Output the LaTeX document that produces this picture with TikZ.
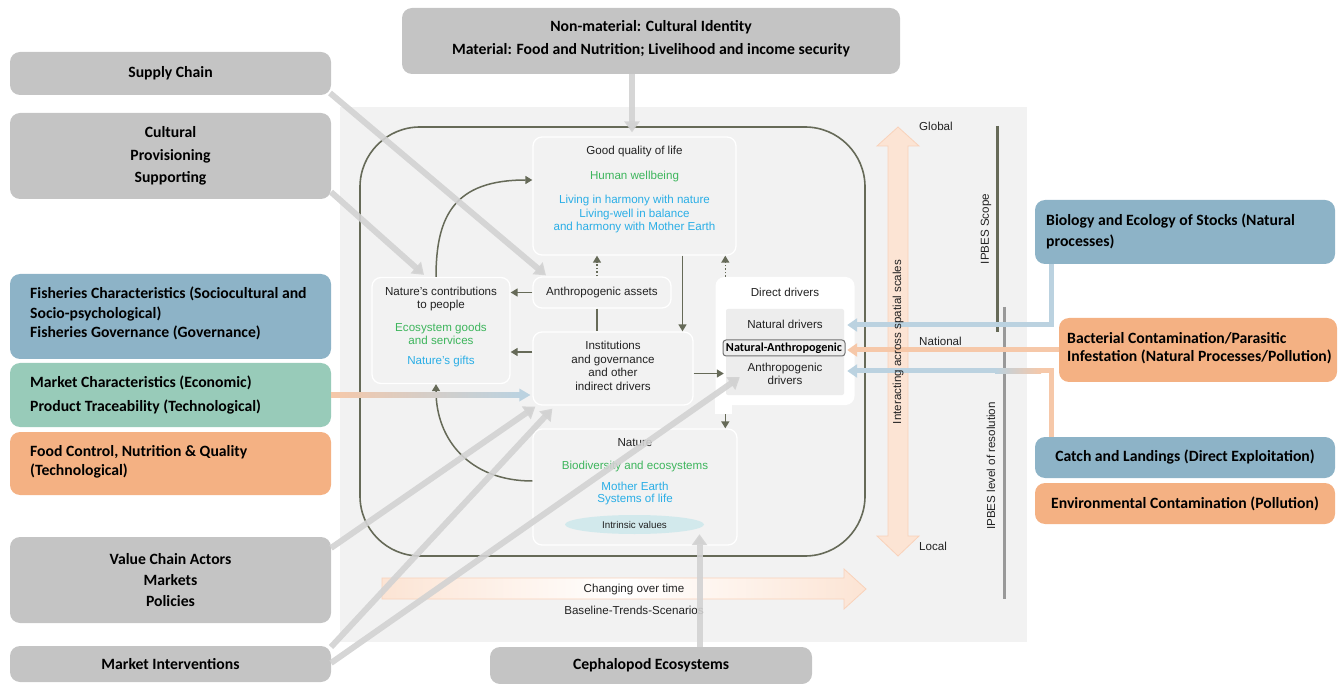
\documentclass[tikz,border=0pt]{standalone}
\usepackage{fontspec}
\setmainfont{Liberation Sans}
\newfontfamily\carl{Carlito}
\usetikzlibrary{arrows.meta,calc,shapes.geometric}
\definecolor{bgc}{HTML}{F2F2F2}
\definecolor{ddg}{HTML}{EDEDED}
\definecolor{boxg}{HTML}{C4C4C4}
\definecolor{boxb}{HTML}{8DB3C7}
\definecolor{boxgr}{HTML}{98CBB9}
\definecolor{boxo}{HTML}{F4B183}
\definecolor{dol}{HTML}{666A58}
\definecolor{lgr}{HTML}{D2D2D2}
\definecolor{lbl}{HTML}{BBD2E0}
\definecolor{lor}{HTML}{F6C8A9}
\definecolor{tgreen}{HTML}{3DB55C}
\definecolor{tblue}{HTML}{2AAEE6}
\definecolor{peach}{HTML}{FCE4D4}
\definecolor{peachd}{HTML}{F9D2BA}
\definecolor{ivc}{HTML}{D2E9EC}
\definecolor{txt}{HTML}{222222}
\tikzset{
 obox/.style={rounded corners=10pt, inner sep=0pt, outer sep=0pt},
 btxt/.style={font=\carl\bfseries\fontsize{15.7}{#1}\selectfont, text=black, inner sep=0pt},
 btxt/.default=21,
 ibox/.style={draw=white, line width=1.3pt, fill=bgc, rounded corners=9pt, inner sep=0pt},
 itxt/.style={font=\fontsize{11.6}{13.5}\selectfont, text=txt, align=center, inner sep=0pt},
 gtxt/.style={itxt, text=tgreen},
 ctxt/.style={itxt, text=tblue},
 darr/.style={draw=dol, line width=1.5pt, -{Triangle[width=8pt,length=7pt]}},
 dotarr/.style={darr, dotted, line width=1.3pt},
 garr/.style={draw=lgr, draw opacity=0.9, line width=6pt, -{Triangle[width=15pt,length=11pt]}},
 barr/.style={draw=lbl, line width=5pt, -{Triangle[width=13pt,length=10pt]}},
 oarr/.style={draw=lor, line width=5pt, -{Triangle[width=13pt,length=10pt]}},
 oline/.style={draw=lor, line width=5pt},
}
\begin{document}
\begin{tikzpicture}[x=1pt,y=-1pt]
\useasboundingbox (0,0) rectangle (1341,684);
% background panel
\fill[bgc] (340,107) rectangle (1027,642);
% peach arrows
\path[fill=peach, draw=peachd, line width=0.8pt] (898,127) -- (919,146) -- (908,146) -- (908,536) -- (919,536) -- (898,556) -- (877,536) -- (888,536) -- (888,146) -- (877,146) -- cycle;
\shade[left color=peach, right color=peach, middle color=white] (382,578) -- (844,578) -- (844,569) -- (866,589) -- (844,609) -- (844,599) -- (382,599) -- cycle;
\draw[peachd, line width=0.8pt] (382,578) -- (844,578) -- (844,569) -- (866,589) -- (844,609) -- (844,599) -- (382,599) -- cycle;
% IPBES lines
\draw[dol, line width=3pt] (997,126) -- (997,332);
\draw[black!40, line width=3pt] (1004,307) -- (1004,599);
% frame
\node[draw=dol, line width=1.6pt, rounded corners=60pt, minimum width=505pt, minimum height=429pt, inner sep=0pt] (frame) at (612.5,341.5) {};
% inner boxes
\node[ibox, minimum width=203pt, minimum height=118pt] (gql) at (634.5,196) {};
\node[ibox, minimum width=138pt, minimum height=106pt] (ncp) at (441,330.5) {};
\node[ibox, minimum width=138pt, minimum height=31pt] (aa) at (602,292.5) {};
\node[ibox, minimum width=160pt, minimum height=73pt] (inst) at (613,368.5) {};
\node[ibox, minimum width=204pt, minimum height=116pt] (nat) at (635,487) {};
\node[fill=white, rounded corners=9pt, minimum width=139pt, minimum height=128pt, inner sep=0pt] (dd) at (785,341) {};
\fill[white] ([yshift=10pt]dd.south west) rectangle ++(17,19);
\node[fill=ddg, minimum width=118pt, minimum height=86pt, inner sep=0pt, rounded corners=2pt] (ddin) at (785,352) {};
\node[draw=black!55, line width=1pt, fill=ddg, rounded corners=3pt, minimum width=122pt, minimum height=16pt, inner sep=0pt, font=\carl\bfseries\fontsize{12.2}{12}\selectfont] (na) at (784,348) {Natural-Anthropogenic};
\node[ellipse, fill=ivc, minimum width=139pt, minimum height=19pt, inner sep=0pt, font=\fontsize{9.8}{10}\selectfont, text=txt] (iv) at (634.5,524.5) {Intrinsic values};
% inner texts
\node[itxt] (gqlT) at (634.5,152) {Good quality of life};
\node[gtxt] (gqlG) at (634.5,177) {Human wellbeing};
\node[ctxt] (gqlB) at (634.5,214.5) {Living in harmony with nature\\Living-well in balance\\and harmony with Mother Earth};
\node[itxt] (ncpT) at (441,299) {Nature's contributions\\to people};
\node[gtxt] (ncpG) at (441,334) {Ecosystem goods\\and services};
\node[ctxt] (ncpB) at (441,362) {Nature's gifts};
\node[itxt] (aaT) at (602,292.5) {Anthropogenic assets};
\node[itxt] (instT) at (613,366) {Institutions\\and governance\\and other\\indirect drivers};
\node[itxt] (ddT) at (785,292) {Direct drivers};
\node[itxt] (ndT) at (785,324) {Natural drivers};
\node[itxt] (adT) at (785,374) {Anthropogenic\\drivers};
\node[itxt] (natT) at (635,443) {Nature};
\node[gtxt] (natG) at (635,467) {Biodiversity and ecosystems};
\node[ctxt, font=\fontsize{11.6}{11.5}\selectfont] (natB) at (635,493.5) {Mother Earth\\Systems of life};
% dark arrows
\draw[darr] ([xshift=-5pt]ncp.north) .. controls (436,215) and (455,180) .. ([yshift=16pt]gql.west);
\draw[darr] (aa.west) -- (ncp.east |- aa.west);
\draw[darr] ([yshift=16.5pt]inst.west) coordinate (i1) -- (ncp.east |- i1);
\draw[dol, line width=1.5pt] ([xshift=-5pt]aa.south) -- ([xshift=-5pt]aa.south |- inst.north);
\draw[dotarr] ([xshift=-5pt]aa.north) -- ([xshift=-5pt]aa.north |- gql.south);
\draw[darr] ([xshift=48pt]gql.south) -- ([xshift=48pt]gql.south |- inst.north);
\draw[dotarr] ([xshift=10pt]dd.north west) -- ([xshift=10pt]dd.north west |- gql.south);
\draw[darr] ([yshift=-5pt]inst.east) coordinate (i2) -- ([xshift=-2pt]ddin.west |- i2);
\draw[darr] ([xshift=10pt,yshift=-9pt]dd.south west) coordinate (d1) -- (d1 |- nat.north);
\draw[darr] ([yshift=6pt]nat.west) .. controls (470,481) and (436,440) .. ([xshift=-5pt]ncp.south);
% outer boxes
\node[obox, fill=boxg, minimum width=498pt, minimum height=66pt] (nm) at (651,41) {};
\node[btxt=23, align=center] (nmT) at (651,38.5) {Non-material: Cultural Identity\\Material: Food and Nutrition; Livelihood and income security};
\node[obox, fill=boxg, minimum width=321pt, minimum height=43pt, btxt] (sc) at (170.5,73.5) {Supply Chain};
\node[obox, fill=boxg, minimum width=321pt, minimum height=86pt, btxt=22.6, align=center] (cult) at (170.5,156) {Cultural\\Provisioning\\Supporting};
\node[obox, fill=boxb, minimum width=321pt, minimum height=85pt] (fc) at (170.5,316.5) {};
\node[btxt=19.5, align=left, anchor=west] (fcT) at (30,313.5) {Fisheries Characteristics (Sociocultural and\\Socio-psychological)\\Fisheries Governance (Governance)};
\node[obox, fill=boxgr, minimum width=321pt, minimum height=64pt] (mc) at (170.5,395) {};
\node[btxt=24, align=left, anchor=west] (mcT) at (30,395) {Market Characteristics (Economic)\\Product Traceability (Technological)};
\node[obox, fill=boxo, minimum width=321pt, minimum height=63pt] (fq) at (170.5,463.5) {};
\node[btxt=19, align=left, anchor=west] (fqT) at (30,461.5) {Food Control, Nutrition \& Quality\\(Technological)};
\node[obox, fill=boxg, minimum width=321pt, minimum height=86pt, btxt=21, align=center] (vca) at (170.5,580) {Value Chain Actors\\Markets\\Policies};
\node[obox, fill=boxg, minimum width=321pt, minimum height=36pt, btxt] (mi) at (170.5,664) {Market Interventions};
\node[obox, fill=boxg, minimum width=322pt, minimum height=37pt, btxt] (ceph) at (651,665.5) {Cephalopod Ecosystems};
\node[obox, fill=boxb, minimum width=300pt, minimum height=64pt] (bio) at (1185,232) {};
\node[btxt=21, align=left, anchor=west] (bioT) at (1046,231.5) {Biology and Ecology of Stocks (Natural\\processes)};
\node[obox, fill=boxo, minimum width=278pt, minimum height=64pt] (bact) at (1198,350) {};
\node[btxt=18.5, align=left, anchor=west] (bactT) at (1067,348) {Bacterial Contamination/Parasitic\\Infestation (Natural Processes/Pollution)};
\node[obox, fill=boxb, minimum width=300pt, minimum height=41pt, btxt] (catch) at (1185,457.5) {Catch and Landings (Direct Exploitation)};
\node[obox, fill=boxo, minimum width=300pt, minimum height=41pt, btxt] (env) at (1185,503.5) {Environmental Contamination (Pollution)};
% right connectors
\coordinate (bend) at ($(ddin.east)+(3,-27)$);
\draw[barr] ([xshift=16pt]bio.south west) |- (bend);
\draw[oarr] (bact.west) -- (bact.west -| bend);
\coordinate (cend) at ($(ddin.east)+(3,19)$);
\draw[oline] ([xshift=16pt]catch.north west) |- ($(cend)+(193,0)$);
\shade[left color=lbl, right color=lor] ($(cend)+(148,-2.5)$) rectangle ($(cend)+(194,2.5)$);
\draw[barr] ($(cend)+(149,0)$) -- (cend);
% market gradient arrow
\coordinate (mcS) at (mc.east);
\coordinate (mcE) at ($(inst.west |- mc.east)+(-2,0)$);
\shade[left color=lor, right color=lbl, middle color=lor!45!lbl] ($(mcS)+(0,-2.5)$) rectangle ($(mcE)+(-10,2.5)$);
\fill[lbl] ($(mcE)+(-11,-6.5)$) -- (mcE) -- ($(mcE)+(-11,6.5)$) -- cycle;
% scale labels
\node[itxt, anchor=west] (glob) at (919,126) {Global};
\node[itxt, anchor=west] (natl) at (919,341) {National};
\node[itxt, anchor=west] (locl) at (919,546) {Local};
\node[itxt, rotate=90] (ias) at (898,342) {Interacting across spatial scales};
\node[itxt, rotate=90] (scope) at (986,229) {IPBES Scope};
\node[itxt, rotate=90] (reslab) at (991,466) {IPBES level of resolution};
\node[itxt] (cot) at (634,589) {Changing over time};
\node[itxt] (bts) at (634,610) {Baseline-Trends-Scenarios};
% light grey arrows
\coordinate (nmS) at ([xshift=-19pt]nm.south);
\draw[garr] (nmS) -- ([yshift=4pt]gql.north -| nmS);
\draw[garr] ([xshift=-1pt,yshift=2pt]sc.south east) -- ([xshift=-56pt,yshift=1pt]aa.north);
\draw[garr] ([yshift=7pt]cult.south east) -- ([xshift=-17pt,yshift=2pt]ncp.north);
\draw[garr] ([yshift=-11pt]vca.north east) -- ([xshift=3pt,yshift=-1pt]inst.south west);
\draw[garr] ([yshift=-1pt]mi.north east) -- ([xshift=20pt,yshift=-3pt]inst.south west);
\draw[garr] ([yshift=-17pt]mi.north east) -- ([xshift=14pt,yshift=18pt]ddin.south west);
\coordinate (cephtip) at ([xshift=65pt]iv.south);
\draw[garr] (cephtip |- ceph.north) -- (cephtip);
\end{tikzpicture}
\end{document}
